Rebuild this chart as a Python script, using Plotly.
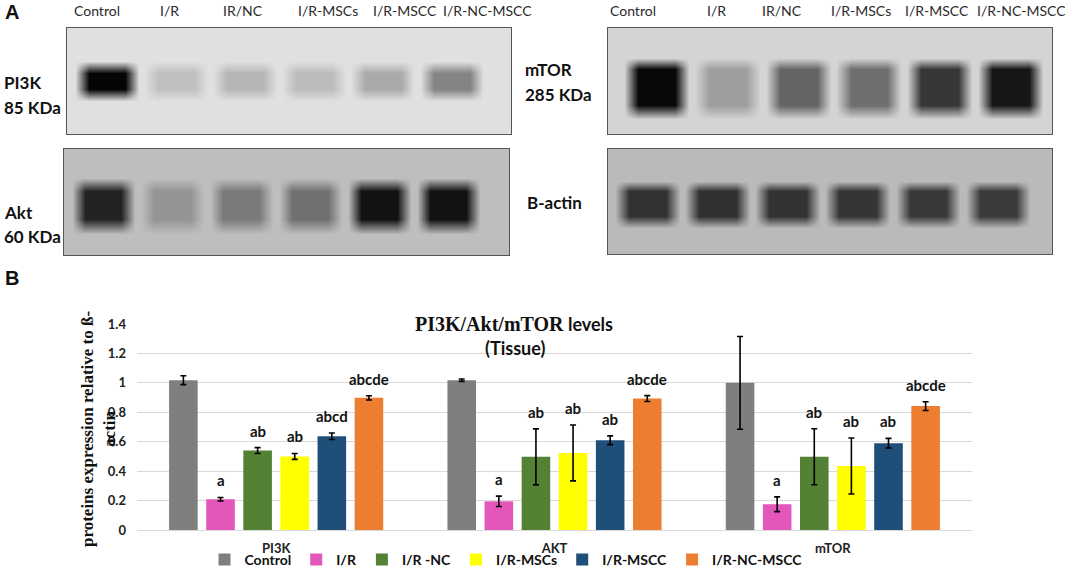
import plotly.graph_objects as go

W, H = 1065, 570

# ---------------------------------------------------------------- panel B data
proteins = ["PI3K", "AKT", "mTOR"]
groups = ["Control", "I/R", "I/R -NC", "I/R-MSCs", "I/R-MSCC", "I/R-NC-MSCC"]
colors = ["#7f7f7f", "#e356ba", "#548235", "#ffff00", "#1f4e79", "#ed7d31"]

control = [1.018, 1.018, 1.0]
ir = [0.209, 0.195, 0.175]
ir_nc = [0.54, 0.497, 0.498]
ir_mscs = [0.50, 0.524, 0.435]
ir_mscc = [0.637, 0.61, 0.590]
ir_nc_mscc = [0.898, 0.893, 0.842]

control_err = [0.03, 0.008, 0.315]
ir_err = [0.012, 0.035, 0.05]
ir_nc_err = [0.02, 0.19, 0.19]
ir_mscs_err = [0.02, 0.19, 0.19]
ir_mscc_err = [0.022, 0.03, 0.033]
ir_nc_mscc_err = [0.014, 0.02, 0.03]

control_sig = ["", "", ""]
ir_sig = ["a", "a", "a"]
ir_nc_sig = ["ab", "ab", "ab"]
ir_mscs_sig = ["ab", "ab", "ab"]
ir_mscc_sig = ["abcd", "ab", "ab"]
ir_nc_mscc_sig = ["abcde", "abcde", "abcde"]

y_ticks = [0, 0.2, 0.4, 0.6, 0.8, 1.0, 1.2, 1.4]
y_ticktext = ["0", "0.2", "0.4", "0.6", "0.8", "1", "1.2", "1.4"]

# ---------------------------------------------------------------- panel A data
lanes = ["Control", "I/R", "IR/NC", "I/R-MSCs", "I/R-MSCC", "I/R-NC-MSCC"]
# band grey level per lane (0 = black, 255 = white) and membrane background
pi3k_band = [5, 192, 182, 188, 170, 132]
akt_band = [35, 148, 122, 112, 18, 18]
mtor_band = [8, 158, 100, 110, 55, 22]
bactin_band = [50, 48, 50, 52, 56, 58]
pi3k_bg, akt_bg, mtor_bg, bactin_bg = 224, 190, 212, 186

values = [control, ir, ir_nc, ir_mscs, ir_mscc, ir_nc_mscc]
errors = [control_err, ir_err, ir_nc_err, ir_mscs_err, ir_mscc_err, ir_nc_mscc_err]
sigs = [control_sig, ir_sig, ir_nc_sig, ir_mscs_sig, ir_mscc_sig, ir_nc_mscc_sig]

SANS = "Lato"
SERIF = "Liberation Serif"


def px(x):
    return x / W


def py(y):
    return 1 - y / H


fig = go.Figure()

# ---------------------------------------------------------------- bars
for name, col, vals, errs in zip(groups, colors, values, errors):
    fig.add_trace(
        go.Bar(
            name=name,
            x=proteins,
            y=vals,
            marker=dict(color=col, line=dict(width=0)),
            error_y=dict(type="data", array=errs, color="black", thickness=1.6, width=3),
            hoverinfo="skip",
        )
    )


# ---------------------------------------------------------------- blots
def blot_heatmap(band, bg, rows, xaxis, yaxis, xr):
    # sample points across lanes, smoothed by the heatmap itself
    xs = [xr[0]]
    for i in range(len(band)):
        xs += [i - 0.46, i - 0.26, i + 0.26, i + 0.46]
    xs.append(xr[1])
    t0, t1, t2, t3 = rows
    ys = [0, 1 - t3, 1 - t2, 1 - t1, 1 - t0, 1]
    bg_row = [bg] * len(xs)
    band_row = [bg]
    for b in band:
        band_row += [bg, b, b, bg]
    band_row.append(bg)
    z = [bg_row, bg_row, band_row, band_row, bg_row, bg_row]
    return go.Heatmap(
        x=xs, y=ys, z=z, zmin=0, zmax=255, zsmooth="best",
        colorscale=[[0, "rgb(0,0,0)"], [1, "rgb(255,255,255)"]],
        showscale=False, showlegend=False, hoverinfo="skip",
        xaxis=xaxis, yaxis=yaxis,
    )


blots = [
    # band, bg, band rows (from top), axis, domain px, lane range
    (pi3k_band, pi3k_bg, (0.31, 0.42, 0.58, 0.69), "2", (67, 511, 28, 134), (-0.58, 5.86)),
    (akt_band, akt_bg, (0.27, 0.40, 0.66, 0.80), "3", (64, 509, 149, 255), (-0.57, 5.88)),
    (mtor_band, mtor_bg, (0.28, 0.39, 0.73, 0.86), "4", (608, 1052, 28, 134), (-0.69, 5.59)),
    (bactin_band, bactin_bg, (0.30, 0.40, 0.64, 0.75), "5", (608, 1052, 149, 254), (-0.56, 5.77)),
]

layout_axes = {}
for band, bg, rows, ax, (x0, x1, y0, y1), xr in blots:
    fig.add_trace(blot_heatmap(band, bg, rows, "x" + ax, "y" + ax, xr))
    common = dict(showgrid=False, zeroline=False, showticklabels=False, ticks="",
                  showline=True, mirror=True, linecolor="#555", linewidth=1.2,
                  fixedrange=True)
    layout_axes["xaxis" + ax] = dict(domain=[px(x0), px(x1)], range=list(xr),
                                     anchor="y" + ax, **common)
    layout_axes["yaxis" + ax] = dict(domain=[py(y1), py(y0)], range=[0, 1],
                                     anchor="x" + ax, **common)

# ---------------------------------------------------------------- annotations
ann = []


def paper_text(txt, x, y, size, family=SANS, xanchor="center", weight="bold", **kw):
    return dict(x=px(x), y=py(y), xref="paper", yref="paper", showarrow=False,
                xanchor=xanchor, yanchor="middle", text=txt,
                font=dict(family=family, size=size, color="#111", weight=weight), **kw)


# bar letters
plot_x0, plot_x1 = 137, 972
bargap = 0.2
pitch = (plot_x1 - plot_x0) / len(proteins) * (1 - bargap) / len(groups)
for gi, (vals, errs, sg) in enumerate(zip(values, errors, sigs)):
    for pi, p in enumerate(proteins):
        if not sg[pi]:
            continue
        ann.append(dict(
            x=p, y=vals[pi] + errs[pi], xref="x", yref="y",
            xshift=(gi - (len(groups) - 1) / 2) * pitch, yshift=6,
            text=sg[pi], showarrow=False, xanchor="center", yanchor="bottom",
            font=dict(family=SANS, size=15, color="#111", weight="bold"),
        ))

# chart title
ann.append(paper_text(
    f"<span style='font-family:{SERIF}; font-size:20px'>PI3K/Akt/mTOR</span> levels",
    514, 324, 18))
ann.append(paper_text("(Tissue)", 515, 348, 18))
# y-axis title
ann.append(paper_text("proteins expression relative to ß-<br>actin", 98, 429, 17,
                      family=SERIF, textangle=-90))

# panel letters
ann.append(paper_text("A", 3, 12, 20, family="Liberation Sans", xanchor="left"))
ann.append(paper_text("B", 3, 278, 20, family="Liberation Sans", xanchor="left"))

# lane labels above blots
left_lane_x = [97, 169, 243, 328, 405, 487]
right_lane_x = [633, 716, 782, 861, 937, 1021]
for lab, xl, xrr in zip(lanes, left_lane_x, right_lane_x):
    for xx in (xl, xrr):
        a = paper_text(lab, xx, 10, 14, weight="normal")
        a["font"]["color"] = "#2a2a2a"
        ann.append(a)

# protein labels next to blots
for txt, x, y in [("PI3K", 2, 82), ("85 KDa", 2, 107), ("Akt", 2, 212), ("60 KDa", 2, 237),
                  ("mTOR", 523, 70), ("285 KDa", 523, 95), ("B-actin", 525, 202)]:
    ann.append(paper_text(txt, x, y, 17, xanchor="left"))

fig.update_layout(
    width=W, height=H,
    margin=dict(l=0, r=0, t=0, b=0, autoexpand=False),
    paper_bgcolor="white", plot_bgcolor="white",
    barmode="group", bargap=bargap, bargroupgap=0.23,
    showlegend=True,
    legend=dict(
        orientation="h", x=px(506), xanchor="center", y=py(560), yanchor="middle",
        font=dict(family=SANS, size=14, color="#111", weight="bold"),
        bgcolor="rgba(0,0,0,0)", itemwidth=30, tracegroupgap=0,
    ),
    xaxis=dict(
        domain=[px(plot_x0), px(plot_x1)], anchor="y",
        showgrid=False, showline=False, ticks="", ticklabelstandoff=9,
        tickfont=dict(family=SANS, size=13, color="#222", weight="bold"),
    ),
    yaxis=dict(
        domain=[py(530), py(324)], anchor="x", range=[0, 1.4],
        tickvals=y_ticks, ticktext=y_ticktext, ticks="", ticklabelstandoff=10,
        showgrid=True, gridcolor="#d9d9d9", gridwidth=1,
        zeroline=True, zerolinecolor="#d9d9d9", zerolinewidth=1,
        tickfont=dict(family=SANS, size=13, color="#222", weight="bold"),
    ),
    annotations=ann,
    **layout_axes,
)

# the page's default body margin would push the figure off the window
fig.write_html(
    "out.html",
    config={"displayModeBar": False},
    post_script="document.body.style.margin = '0px';",
)
